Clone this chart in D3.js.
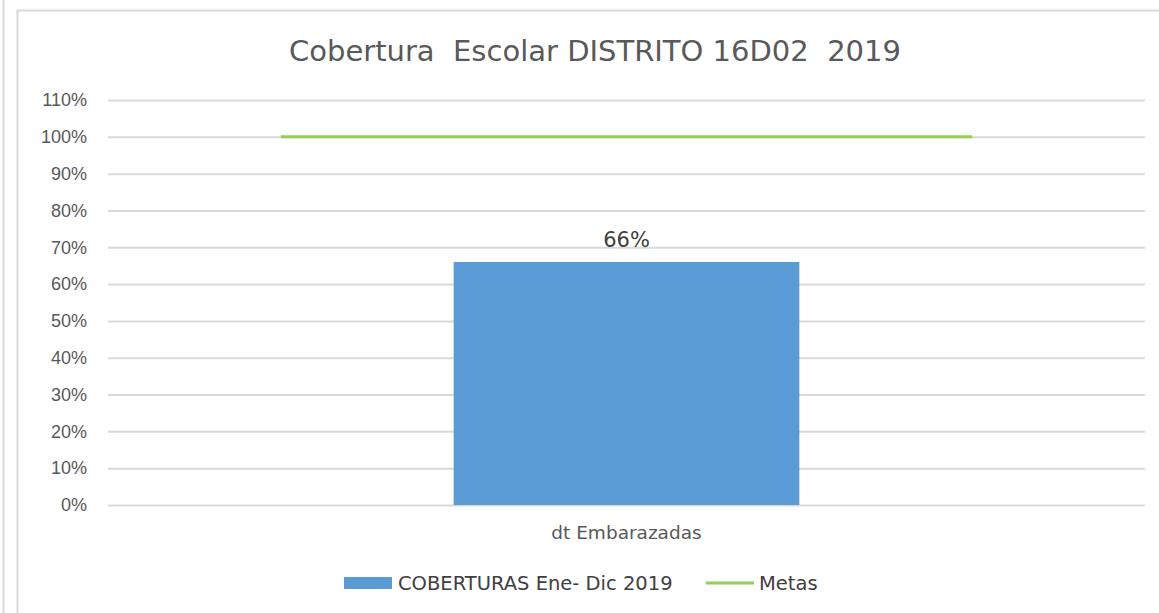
<!DOCTYPE html>
<html>
<head>
<meta charset="utf-8">
<script src="https://cdnjs.cloudflare.com/ajax/libs/d3/7.8.5/d3.min.js"></script>
<style>
  body { margin: 0; background: #fff; }
  svg { display: block; font-family: "DejaVu Sans", sans-serif; }
</style>
</head>
<body>
<svg id="chart" width="1159" height="613"></svg>
<script>
  var categories = ["dt Embarazadas"],
      coberturas = [0.66],
      metas = [1.0],
      yTicks = [0, 0.1, 0.2, 0.3, 0.4, 0.5, 0.6, 0.7, 0.8, 0.9, 1.0, 1.1];

  var svg = d3.select("#chart"),
      margin = {top: 100, right: 14, bottom: 108, left: 108},
      width = +svg.attr("width") - margin.left - margin.right,
      height = +svg.attr("height") - margin.top - margin.bottom;

  // frame lines (left neighbour edge + chart border)
  svg.append("line")
      .attr("x1", 3.5).attr("x2", 3.5).attr("y1", 0).attr("y2", 613)
      .attr("stroke", "#d9d9d9").attr("stroke-width", 2);
  svg.append("path")
      .attr("d", "M17.5,613V10.5H1159")
      .attr("fill", "none")
      .attr("stroke", "#d9d9d9").attr("stroke-width", 2);

  svg.append("text")
      .attr("x", 595)
      .attr("y", 61)
      .attr("text-anchor", "middle")
      .attr("fill", "#595959")
      .style("font-size", "29px")
      .style("white-space", "pre")
      .text("Cobertura  Escolar DISTRITO 16D02  2019");

  var x = d3.scaleBand().domain(categories).range([0, width]),
      y = d3.scaleLinear().domain([0, 1.1]).range([height, 0]);

  var g = svg.append("g")
      .attr("transform", "translate(" + margin.left + "," + margin.top + ")");

  var yAxis = d3.axisLeft(y)
      .tickValues(yTicks)
      .tickSize(-width)
      .tickPadding(21)
      .tickFormat(d3.format(".0%"));

  g.append("g")
      .attr("class", "axis axis--y")
      .call(yAxis)
      .call(function(a) {
        a.select(".domain").remove();
        a.selectAll(".tick line").attr("stroke", "#d9d9d9").attr("stroke-width", 2);
        a.selectAll(".tick text").attr("fill", "#595959").style("font-size", "18px");
      });

  // bars
  g.selectAll(".bar")
      .data(coberturas)
    .enter().append("rect")
      .attr("class", "bar")
      .attr("x", function(d, i) { return x(categories[i]) + x.bandwidth() / 3; })
      .attr("width", x.bandwidth() / 3)
      .attr("y", function(d) { return y(d); })
      .attr("height", function(d) { return height - y(d); })
      .attr("fill", "#5b9bd5");

  g.selectAll(".label")
      .data(coberturas)
    .enter().append("text")
      .attr("x", function(d, i) { return x(categories[i]) + x.bandwidth() / 2; })
      .attr("y", function(d) { return y(d) - 15; })
      .attr("text-anchor", "middle")
      .attr("fill", "#404040")
      .style("font-size", "21px")
      .text(function(d) { return d3.format(".0%")(d); });

  // meta line
  g.selectAll(".meta")
      .data(metas)
    .enter().append("line")
      .attr("x1", function(d, i) { return x(categories[i]) + x.bandwidth() / 6; })
      .attr("x2", function(d, i) { return x(categories[i]) + x.bandwidth() * 5 / 6; })
      .attr("y1", function(d) { return y(d); })
      .attr("y2", function(d) { return y(d); })
      .attr("stroke", "#92d050")
      .attr("stroke-width", 3);

  // category axis
  g.selectAll(".cat")
      .data(categories)
    .enter().append("text")
      .attr("x", function(d) { return x(d) + x.bandwidth() / 2; })
      .attr("y", height + 34)
      .attr("text-anchor", "middle")
      .attr("fill", "#595959")
      .style("font-size", "18.5px")
      .text(function(d) { return d; });

  // legend
  var legend = svg.append("g").attr("transform", "translate(0,583)");
  legend.append("rect")
      .attr("x", 344).attr("y", -6).attr("width", 48).attr("height", 12)
      .attr("fill", "#5b9bd5");
  legend.append("text")
      .attr("x", 398).attr("y", 7)
      .attr("fill", "#404040")
      .style("font-size", "19.5px")
      .text("COBERTURAS Ene- Dic 2019");
  legend.append("line")
      .attr("x1", 706).attr("x2", 754).attr("y1", 0).attr("y2", 0)
      .attr("stroke", "#92d050").attr("stroke-width", 3);
  legend.append("text")
      .attr("x", 759).attr("y", 7)
      .attr("fill", "#404040")
      .style("font-size", "19.5px")
      .text("Metas");
</script>
</body>
</html>
